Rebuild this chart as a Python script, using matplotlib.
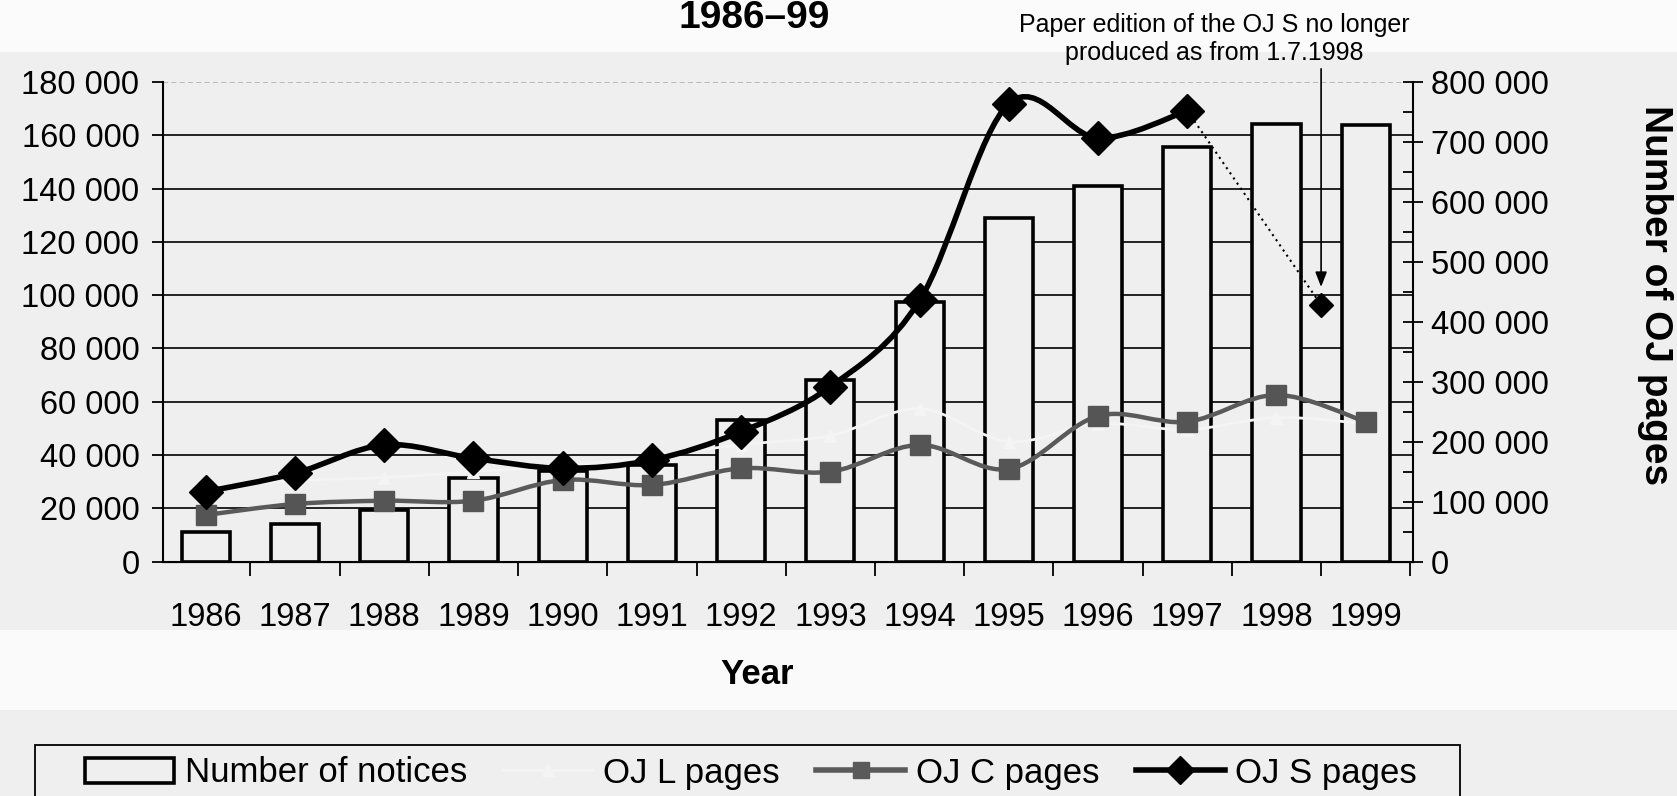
import numpy as np
import matplotlib
matplotlib.use("Agg")
import matplotlib.pyplot as plt
from matplotlib.path import Path
from matplotlib.patches import PathPatch, Patch, Rectangle
from matplotlib.lines import Line2D
from matplotlib.ticker import FuncFormatter, MultipleLocator, FixedLocator

plt.rcParams['font.family'] = ['Liberation Sans', 'DejaVu Sans']

# ---------------- data ----------------
years = [1986, 1987, 1988, 1989, 1990, 1991, 1992, 1993, 1994, 1995, 1996, 1997, 1998, 1999]
notices = [11100, 14100, 19300, 31200, 34100, 36200, 53100, 68100, 97600, 128900, 140900, 155500, 164200, 163900]
oj_l_pages = [125000, 135000, 140000, 150000, 160000, 175000, 195000, 210000, 255000, 200000, 230000, 220000, 240000, 230000]
oj_c_pages = [77600, 95900, 101400, 101400, 136000, 127600, 155500, 149800, 194400, 154300, 242800, 233200, 277800, 233200]
oj_s_years = [1986, 1987, 1988, 1989, 1990, 1991, 1992, 1993, 1994, 1995, 1996, 1997]
oj_s_pages = [116500, 147200, 194400, 172200, 155500, 169300, 216600, 291600, 435500, 763800, 706600, 752100]
paper_end_year = 1998.5
paper_end_pages = 428000
left_ticks = [0, 20000, 40000, 60000, 80000, 100000, 120000, 140000, 160000, 180000]
right_ticks = [0, 100000, 200000, 300000, 400000, 500000, 600000, 700000, 800000]
title_text = "1986\u201399"
note_text = "Paper edition of the OJ S no longer\nproduced as from 1.7.1998"

BG = '#efefef'
W, H = 1677, 796
FS = 23.5
fig = plt.figure(figsize=(W / 100, H / 100), dpi=100, facecolor=BG)

# light bands of the scan
fig.patches.append(Rectangle((0, 1 - 52 / H), 1, 52 / H, transform=fig.transFigure,
                             facecolor='#fbfbfb', edgecolor='none', zorder=-10))
fig.patches.append(Rectangle((0, 1 - 710 / H), 1, 80 / H, transform=fig.transFigure,
                             facecolor='#fafafa', edgecolor='none', zorder=-10))

ax = fig.add_axes([163 / W, 1 - 561.5 / H, (1413 - 163) / W, (561.5 - 82) / H])
ax.set_facecolor(BG)
ax2 = ax.twinx()

ax.set_xlim(1985.52, 1999.53)
ax.set_ylim(0, 180000)
ax2.set_ylim(0, 800000)

fmt = FuncFormatter(lambda v, p: f"{int(v):,}".replace(",", " "))

# grid
ax.yaxis.set_major_locator(FixedLocator(left_ticks))
ax.yaxis.set_major_formatter(fmt)
ax.set_axisbelow(True)
ax.grid(axis='y', color='black', lw=1.2)
gls = ax.get_ygridlines()
gls[-1].set_color('#b0b0b0')
gls[-1].set_linestyle((0, (3, 2)))

# bars
ax.bar(years, notices, width=0.54, facecolor=BG, edgecolor='black', lw=2.6, zorder=2)

# x axis
ax.xaxis.set_major_locator(FixedLocator(years))
ax.set_xticklabels([str(y) for y in years])
ax.xaxis.set_minor_locator(FixedLocator(list(np.arange(1985.5, 1999.6, 1.0))))
ax.tick_params(axis='x', which='major', length=0, pad=29, labelsize=FS)
ax.tick_params(axis='x', which='minor', length=10, width=1.3, direction='out')
ax.tick_params(axis='y', which='major', length=8, width=1.3, direction='out', labelsize=FS, pad=9)

ax.spines['top'].set_visible(False)
ax2.spines['top'].set_visible(False)
ax.spines['right'].set_visible(False)
ax2.spines['left'].set_visible(False)
ax.spines['left'].set_linewidth(1.5)
ax.spines['bottom'].set_linewidth(1.5)
ax2.spines['right'].set_linewidth(1.5)

ax2.yaxis.set_major_locator(FixedLocator(right_ticks))
ax2.yaxis.set_minor_locator(MultipleLocator(50000))
ax2.yaxis.set_major_formatter(fmt)
ax2.tick_params(axis='y', which='major', direction='inout', length=14, width=1.3, labelsize=FS, pad=6)
ax2.tick_params(axis='y', which='minor', direction='in', length=7, width=1.3)


def smooth(xs, ys):
    pts = np.column_stack([xs, ys]).astype(float)
    n = len(pts)
    verts = [tuple(pts[0])]
    codes = [Path.MOVETO]
    for i in range(n - 1):
        p0 = pts[i - 1] if i > 0 else pts[i]
        p1 = pts[i]
        p2 = pts[i + 1]
        p3 = pts[i + 2] if i + 2 < n else pts[i + 1]
        c1 = p1 + (p2 - p0) / 6.0
        c2 = p2 - (p3 - p1) / 6.0
        verts += [tuple(c1), tuple(c2), tuple(p2)]
        codes += [Path.CURVE4] * 3
    return Path(verts, codes)


LCOL = '#f4f4f4'
# OJ L (faint)
ax2.add_patch(PathPatch(smooth(years, oj_l_pages), fill=False, edgecolor=LCOL, lw=2.0, zorder=3))
ax2.plot(years, oj_l_pages, ls='none', marker='^', ms=8, color=LCOL, zorder=3)
# OJ C
ax2.add_patch(PathPatch(smooth(years, oj_c_pages), fill=False, edgecolor='#5a5a5a', lw=3.2,
                        capstyle='round', joinstyle='round', zorder=4))
ax2.plot(years, oj_c_pages, ls='none', marker='s', ms=14, color='#555555', zorder=5)
# OJ S
ax2.add_patch(PathPatch(smooth(oj_s_years, oj_s_pages), fill=False, edgecolor='black', lw=4,
                        capstyle='round', joinstyle='round', zorder=6))
ax2.plot(oj_s_years, oj_s_pages, ls='none', marker='D', ms=17, color='black', zorder=7)
ax2.plot([oj_s_years[-1], paper_end_year], [oj_s_pages[-1], paper_end_pages],
         ls=(0, (1, 2)), color='black', lw=1.5, zorder=6)
ax2.plot([paper_end_year], [paper_end_pages], ls='none', marker='D', ms=12, color='black', zorder=7)

ax2.annotate('', xy=(paper_end_year, paper_end_pages + 30000),
             xytext=(paper_end_year, 822000),
             arrowprops=dict(arrowstyle='-|>,head_length=0.9,head_width=0.35', color='black', lw=1.2,
                             shrinkA=0, shrinkB=0),
             annotation_clip=False, zorder=8)

fig.text(1214 / W, 1 - 13 / H, note_text, ha='center', va='top', fontsize=18, linespacing=1.22)
fig.text(754 / W, 1 - 28 / H, title_text, ha='center', va='baseline', fontsize=28, fontweight='bold')
fig.text(757 / W, 1 - 675 / H, 'Year', ha='center', va='center', fontsize=25, fontweight='bold')
fig.text(1655 / W, 1 - 295 / H, 'Number of OJ pages', ha='center', va='center', rotation=-90,
         fontsize=28, fontweight='bold')

# legend frame (extends beyond the bottom like the scan)
fig.patches.append(Rectangle((35 / W, -0.05), (1460 - 35) / W, 0.05 + 1 - 745 / H,
                             transform=fig.transFigure, facecolor=BG, edgecolor='black',
                             lw=1.3, zorder=1))

handles = [
    Patch(facecolor=BG, edgecolor='black', lw=2.6),
    Line2D([], [], color=LCOL, lw=2.0, marker='^', ms=8),
    Line2D([], [], color='#5a5a5a', lw=4, marker='s', ms=12),
    Line2D([], [], color='black', lw=4, marker='D', ms=14),
]
labels = ['Number of notices', 'OJ L pages', 'OJ C pages', 'OJ S pages']
leg = fig.legend(handles, labels, loc='center left',
                 bbox_to_anchor=(85 / W, 1 - 773 / H),
                 ncol=4, fontsize=25, frameon=False, handlelength=2.56, handletextpad=0.31,
                 columnspacing=1.05, borderpad=0, borderaxespad=0)
leg.set_zorder(5)

fig.savefig('out.png', dpi=100, facecolor=fig.get_facecolor())
